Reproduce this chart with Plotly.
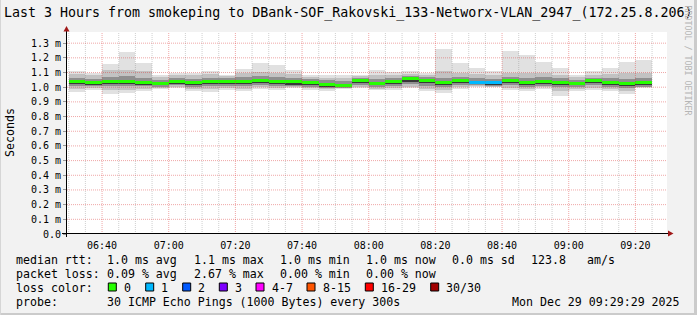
import pandas as pd
import plotly.graph_objects as go

# ---------------- data (ms) ----------------
bar_start_time = "2025-12-29 06:30:00"
n_bars = 35
median = [1.041, 1.032, 1.041, 1.041, 1.034, 1.027, 1.041, 1.032, 1.041, 1.041,
          1.041, 1.045, 1.040, 1.036, 1.030, 1.018, 1.011, 1.043, 1.027, 1.039,
          1.056, 1.045, 1.031, 1.045, 1.033, 1.030, 1.045, 1.033, 1.041, 1.031,
          1.028, 1.044, 1.034, 1.023, 1.030]
p40 = [1.022, 1.016, 1.022, 1.020, 1.018, 1.014, 1.024, 1.016, 1.022, 1.020,
       1.022, 1.026, 1.022, 1.018, 1.014, 1.004, 1.000, 1.026, 1.012, 1.022,
       1.036, 1.026, 1.012, 1.026, 1.020, 1.018, 1.026, 1.016, 1.022, 1.012,
       1.012, 1.026, 1.016, 1.006, 1.014]
p60 = [1.049, 1.040, 1.049, 1.050, 1.042, 1.035, 1.049, 1.040, 1.050, 1.048,
       1.049, 1.053, 1.048, 1.044, 1.038, 1.026, 1.019, 1.051, 1.035, 1.047,
       1.064, 1.053, 1.040, 1.053, 1.041, 1.038, 1.053, 1.041, 1.049, 1.039,
       1.036, 1.052, 1.042, 1.032, 1.038]
p25 = [1.010, 1.006, 1.008, 1.006, 1.006, 1.004, 1.012, 1.004, 1.010, 1.006,
       1.008, 1.012, 1.008, 1.008, 1.002, 0.996, 0.994, 1.014, 1.002, 1.008,
       1.020, 1.010, 1.000, 1.012, 1.012, 1.010, 1.012, 1.004, 1.010, 0.998,
       1.002, 1.012, 1.004, 0.994, 1.004]
p75 = [1.064, 1.058, 1.072, 1.075, 1.066, 1.052, 1.064, 1.058, 1.066, 1.062,
       1.068, 1.074, 1.070, 1.064, 1.056, 1.046, 1.040, 1.064, 1.058, 1.066,
       1.078, 1.068, 1.066, 1.072, 1.060, 1.056, 1.070, 1.062, 1.068, 1.060,
       1.052, 1.066, 1.062, 1.058, 1.062]
p10 = [0.990, 0.992, 0.980, 0.982, 0.990, 0.994, 1.000, 0.988, 0.988, 0.994,
       0.990, 0.998, 0.994, 1.000, 0.992, 0.986, 0.992, 1.002, 0.990, 0.992,
       1.004, 0.990, 0.980, 1.000, 1.006, 1.004, 0.994, 0.990, 0.998, 0.972,
       0.990, 0.994, 0.990, 0.976, 0.998]
p90 = [1.088, 1.082, 1.115, 1.120, 1.110, 1.072, 1.082, 1.080, 1.088, 1.076,
       1.095, 1.105, 1.100, 1.088, 1.072, 1.066, 1.062, 1.076, 1.086, 1.085,
       1.092, 1.082, 1.112, 1.100, 1.090, 1.080, 1.095, 1.100, 1.095, 1.086,
       1.068, 1.085, 1.090, 1.095, 1.095]
low = [0.966, 0.984, 0.952, 0.960, 0.977, 0.987, 0.993, 0.973, 0.966, 0.980,
       0.973, 0.990, 0.980, 0.995, 0.980, 0.973, 0.990, 0.995, 0.980, 0.980,
       0.995, 0.977, 0.959, 0.989, 1.003, 1.000, 0.980, 0.977, 0.989, 0.943,
       0.977, 0.980, 0.977, 0.955, 0.995]
high = [1.107, 1.100, 1.155, 1.239, 1.164, 1.086, 1.100, 1.095, 1.107, 1.086,
        1.123, 1.168, 1.148, 1.114, 1.086, 1.080, 1.086, 1.086, 1.114, 1.102,
        1.107, 1.095, 1.257, 1.168, 1.134, 1.111, 1.250, 1.216, 1.175, 1.134,
        1.080, 1.107, 1.134, 1.175, 1.182]
loss = [0, 0, 0, 0, 0, 0, 0, 0, 0, 0,
        0, 0, 0, 0, 0, 0, 0, 0, 0, 0,
        0, 0, 0, 0, 1, 1, 0, 0, 0, 0,
        0, 0, 0, 0, 0]

loss_labels = ["0", "1", "2", "3", "4-7", "8-15", "16-29", "30/30"]
loss_upper = [0, 1, 2, 3, 7, 15, 29, 30]
loss_colors = ["#26ff00", "#00b8ff", "#0059ff", "#7e00ff", "#ff00ff", "#ff5500", "#ff0000", "#a10000"]

y_ticks = [0.0, 0.1, 0.2, 0.3, 0.4, 0.5, 0.6, 0.7, 0.8, 0.9, 1.0, 1.1, 1.2, 1.3]
y_tick_labels = ["0.0", "0.1 m", "0.2 m", "0.3 m", "0.4 m", "0.5 m", "0.6 m", "0.7 m",
                 "0.8 m", "0.9 m", "1.0 m", "1.1 m", "1.2 m", "1.3 m"]
x_tick_labels = ["06:40", "07:00", "07:20", "07:40", "08:00", "08:20", "08:40", "09:00", "09:20"]
day = "2025-12-29"
x_range = ["2025-12-29 06:29:29", "2025-12-29 09:29:29"]

title = "Last 3 Hours from smokeping to DBank-SOF_Rakovski_133-Networx-VLAN_2947_(172.25.8.206)"
rtt_label = "median rtt:"
rtt_stats = ["1.0 ms avg", "1.1 ms max", "1.0 ms min", "1.0 ms now", "0.0 ms sd", "123.8", "am/s"]
loss_label = "packet loss:"
loss_stats = ["0.09 % avg", "2.67 % max", "0.00 % min", "0.00 % now"]
color_label = "loss color:"
probe_label = "probe:"
probe_text = "30 ICMP Echo Pings (1000 Bytes) every 300s"
stamp_text = "Mon Dec 29 09:29:29 2025"
credit_text = "RRDTOOL / TOBI OETIKER"

# ---------------- layout geometry ----------------
W, H = 697, 315
L, R, T, B = 67, 30, 32, 81
PW, PH = W - L - R, H - T - B
Y_MAX = 1.376
PX_PER_MS = PH / Y_MAX
MONO = "DejaVu Sans Mono"


def px(x):
    return (x - L) / PW


def py(y):
    return (H - B - y) / PH


bar_starts = pd.date_range(bar_start_time, periods=n_bars, freq="5min")
bar_mid = bar_starts + pd.Timedelta(seconds=150)
BAR_W = 300000


def loss_color(v):
    for up, c in zip(loss_upper, loss_colors):
        if v <= up:
            return c
    return loss_colors[-1]


fig = go.Figure()
layers = [(low, high, "#e1e1e1"), (p10, p90, "#c2c2c2"), (p25, p75, "#8f8f8f"), (p40, p60, "#383838")]
for lo_arr, hi_arr, col in layers:
    fig.add_trace(go.Bar(x=bar_mid, base=lo_arr, y=[h - l for l, h in zip(lo_arr, hi_arr)],
                         width=BAR_W, marker=dict(color=col, line=dict(width=0)),
                         hoverinfo="skip", showlegend=False))
half = 1.5 / PX_PER_MS
fig.add_trace(go.Bar(x=bar_mid, base=[m - half for m in median], y=[2 * half] * len(median),
                     width=BAR_W, marker=dict(color=[loss_color(v) for v in loss], line=dict(width=0)),
                     hoverinfo="skip", showlegend=False))

shapes = []
# grid (drawn above the smoke as in rrdtool)
MINOR = "rgba(128,128,128,0.38)"
MAJOR = "rgba(220,60,60,0.45)"
major_times = [pd.Timestamp(f"{day} {t}") for t in x_tick_labels]
for t in pd.date_range(f"{day} 06:30", f"{day} 09:25", freq="5min"):
    if t in major_times:
        continue
    shapes.append(dict(type="line", xref="x", yref="paper", x0=t, x1=t, y0=0, y1=1,
                       line=dict(color=MINOR, width=1, dash="1px,1px"), layer="above"))
for t in major_times:
    shapes.append(dict(type="line", xref="x", yref="paper", x0=t, x1=t, y0=0, y1=1,
                       line=dict(color=MAJOR, width=1, dash="1px,1px"), layer="above"))
for v in y_ticks[1:]:
    shapes.append(dict(type="line", xref="paper", yref="y", x0=0, x1=1, y0=v, y1=v,
                       line=dict(color=MAJOR, width=1, dash="1px,1px"), layer="above"))

# axes lines and arrows
shapes.append(dict(type="line", xref="paper", yref="paper", x0=px(62), x1=px(670), y0=py(233.5), y1=py(233.5),
                   line=dict(color="#000000", width=1), layer="above"))
shapes.append(dict(type="line", xref="paper", yref="paper", x0=px(66.5), x1=px(66.5), y0=py(237), y1=py(29),
                   line=dict(color="#000000", width=1), layer="above"))
ARROW = "#a01818"
shapes.append(dict(type="path", xref="paper", yref="paper",
                   path=f"M {px(63.5)} {py(31.5)} L {px(69.5)} {py(31.5)} L {px(66.5)} {py(26)} Z",
                   fillcolor=ARROW, line=dict(width=0), layer="above"))
shapes.append(dict(type="path", xref="paper", yref="paper",
                   path=f"M {px(668)} {py(230.5)} L {px(668)} {py(236.5)} L {px(673.5)} {py(233.5)} Z",
                   fillcolor=ARROW, line=dict(width=0), layer="above"))

# image frame
FRAME = "#cbcbcb"
shapes.append(dict(type="rect", xref="paper", yref="paper", x0=px(694), x1=px(697), y0=py(0), y1=py(315),
                   fillcolor=FRAME, line=dict(width=0), layer="below"))
shapes.append(dict(type="rect", xref="paper", yref="paper", x0=px(0), x1=px(697), y0=py(313), y1=py(315),
                   fillcolor=FRAME, line=dict(width=0), layer="below"))
shapes.append(dict(type="rect", xref="paper", yref="paper", x0=px(0), x1=px(1), y0=py(0), y1=py(315),
                   fillcolor="#d6d6d6", line=dict(width=0), layer="below"))

annotations = []


def text(x, y, s, size=11.6, anchor="left", color="#000000", angle=0):
    annotations.append(dict(x=px(x), y=py(y), xref="paper", yref="paper", text=s, showarrow=False,
                            xanchor=anchor, yanchor="middle", textangle=angle,
                            font=dict(family=MONO, size=size, color=color), borderpad=0))


text(3, 13.5, title, size=13.3)
text(10, 133, "Seconds", size=11.6, anchor="center", angle=-90)
text(687.5, 60, credit_text, size=8.3, anchor="center", color="#b5b5b5", angle=90)

ROW = [259.5, 273.5, 287.5, 301.5]
COL0 = 15
stat_x = [106, 192.5, 278.5, 365, 450.5, 530, 585.5]
text(COL0, ROW[0], rtt_label)
for s, x in zip(rtt_stats, stat_x):
    text(x, ROW[0], s)
text(COL0, ROW[1], loss_label)
for s, x in zip(loss_stats, stat_x):
    text(x, ROW[1], s)
text(COL0, ROW[2], color_label)
box_x = [108.3, 145.7, 182.7, 219.3, 256, 307, 365.3, 430.7]
for lab, col, bx in zip(loss_labels, loss_colors, box_x):
    shapes.append(dict(type="rect", xref="paper", yref="paper", x0=px(bx), x1=px(bx + 8),
                       y0=py(291), y1=py(283), fillcolor=col, line=dict(color="#000000", width=1),
                       layer="above"))
    text(bx + 14.5, ROW[2], lab)
text(COL0, ROW[3], probe_label)
text(106, ROW[3], probe_text)
text(680.5, ROW[3], stamp_text, anchor="right")

fig.update_layout(
    width=W, height=H,
    margin=dict(l=L, r=R, t=T, b=B, pad=0),
    paper_bgcolor="#f2f2f2", plot_bgcolor="#ffffff",
    barmode="overlay", bargap=0,
    showlegend=False, hovermode=False,
    shapes=shapes, annotations=annotations,
    font=dict(family=MONO, color="#000000"),
    xaxis=dict(type="date", range=x_range, showgrid=False, zeroline=False, showline=False,
               tickvals=major_times, ticktext=x_tick_labels, ticks="outside", ticklen=2,
               tickcolor="rgba(0,0,0,0)",
               tickfont=dict(family=MONO, size=10, color="#000000")),
    yaxis=dict(range=[0, Y_MAX], showgrid=False, zeroline=False, showline=False,
               tickvals=y_ticks, ticktext=y_tick_labels, ticks="outside", ticklen=3,
               tickcolor="#999999", tickwidth=1,
               tickfont=dict(family=MONO, size=10, color="#000000")),
)

fig.write_html("out.html", config={"displayModeBar": False})
